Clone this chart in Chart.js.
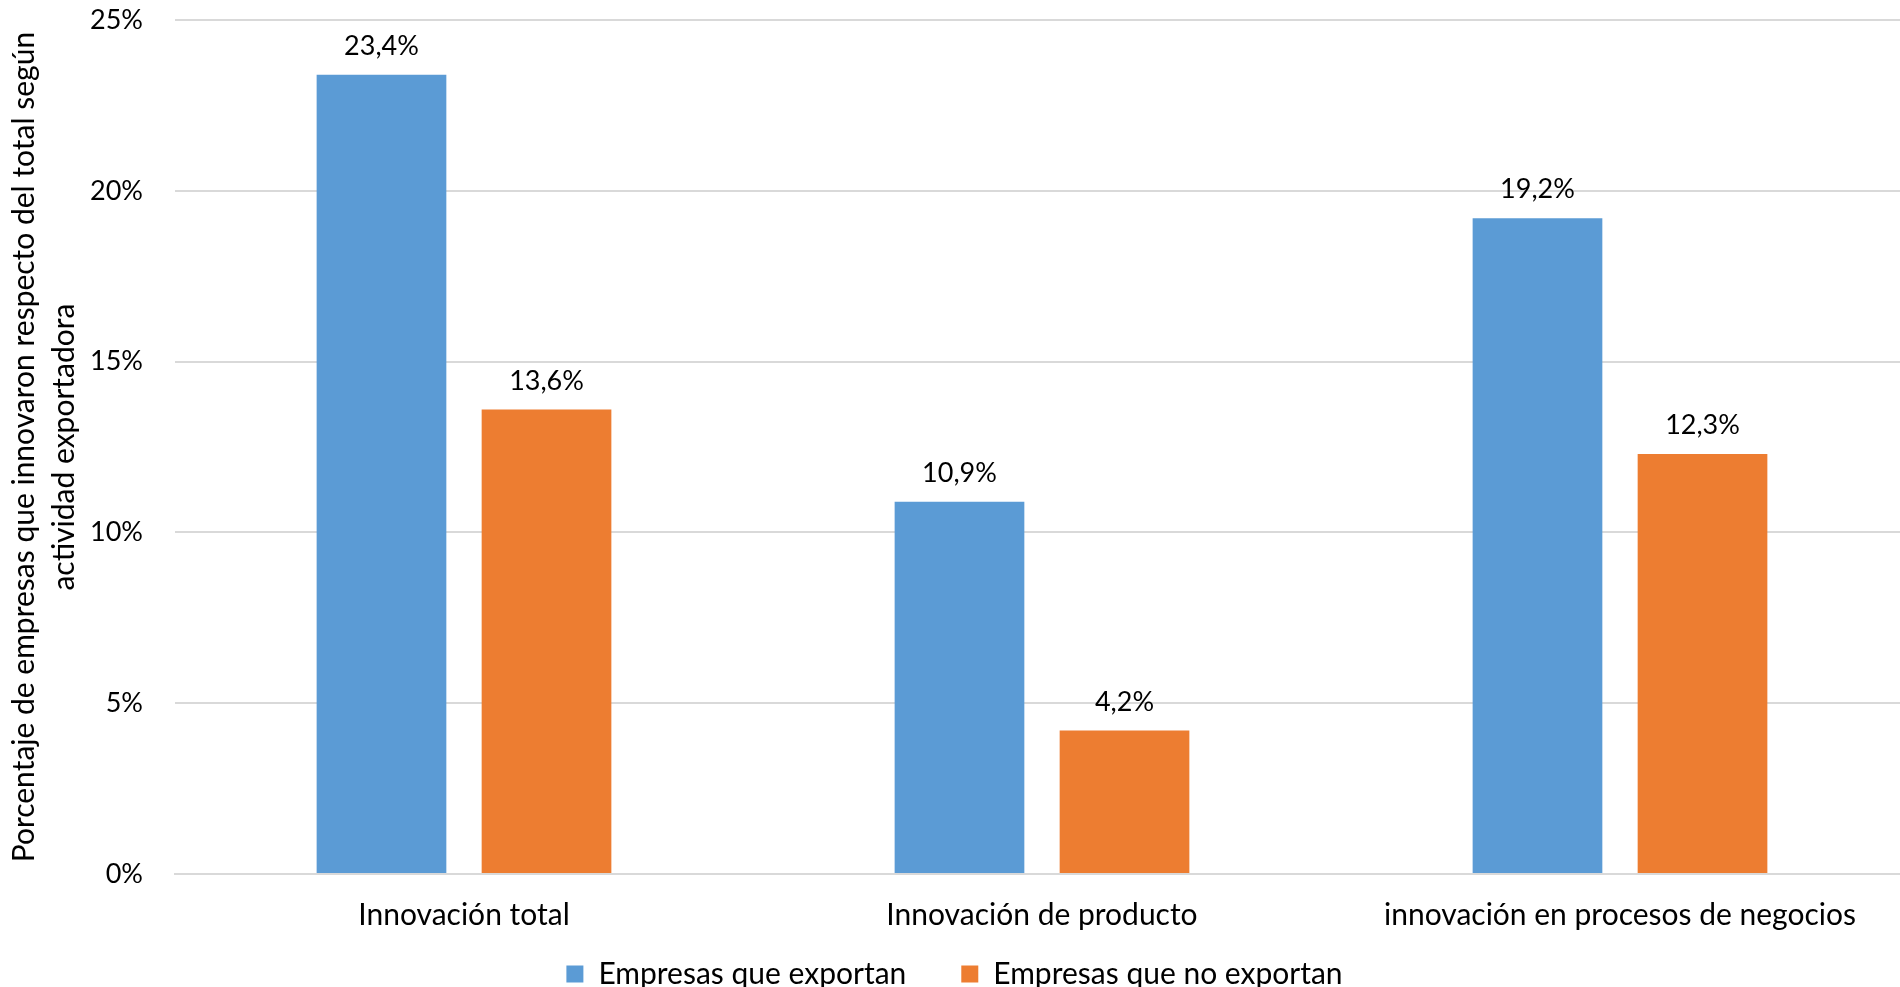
<!DOCTYPE html>
<html>
<head>
<meta charset="utf-8">
<script src="https://cdn.jsdelivr.net/npm/chart.js@4"></script>
<style>
  html, body { margin: 0; padding: 0; background: #fff; overflow: hidden; }
  /* plot area runs a few px past the right edge, as in the original */
  #wrap { width: 1909px; height: 987px; }
</style>
</head>
<body>
<div id="wrap"><canvas id="barChart"></canvas></div>
<script>
const categories = ["Innovación total", "Innovación de producto", "innovación en procesos de negocios"];
const seriesNames = ["Empresas que exportan", "Empresas que no exportan"];
const exportan = [23.4, 10.9, 19.2];
const noExportan = [13.6, 4.2, 12.3];
const yAxisTitle = ["Porcentaje de empresas que innovaron respecto del total según", "actividad exportadora"];

const fontFamily = "Lato, 'Noto Sans', sans-serif";
const textSize = 30;
const numberSize = 27;

// value labels above each bar, with comma decimals
const barLabels = {
    id: 'barLabels',
    afterLayout(chart) {
        // the x labels hang below the axis box, keep them out of the clip
        chart.scales.x.bottom = chart.height;
    },
    afterDatasetsDraw(chart) {
        const ctx = chart.ctx;
        ctx.save();
        ctx.font = numberSize + "px " + fontFamily;
        ctx.fillStyle = "#000";
        ctx.textAlign = "center";
        ctx.textBaseline = "alphabetic";
        chart.data.datasets.forEach((ds, i) => {
            chart.getDatasetMeta(i).data.forEach((bar, j) => {
                let txt = ds.data[j].toFixed(1).replace(".", ",") + "%";
                ctx.fillText(txt, bar.x, bar.y - 20);
            });
        });
        ctx.restore();
    }
};

const ctx1 = document.getElementById("barChart").getContext('2d');

const data = {
    labels: categories,
    datasets: [
        {
            label: seriesNames[0],
            data: exportan,
            backgroundColor: "#5B9BD5",
            categoryPercentage: 0.571,
            barPercentage: 0.786
        },
        {
            label: seriesNames[1],
            data: noExportan,
            backgroundColor: "#ED7D31",
            categoryPercentage: 0.571,
            barPercentage: 0.786
        }
    ]
};

const config = {
    type: 'bar',
    data: data,
    plugins: [barLabels],
    options: {
        responsive: true,
        maintainAspectRatio: false,
        animation: false,
        layout: {
            padding: { top: 20, right: 0, bottom: -12, left: 0 }
        },
        scales: {
            x: {
                grid: { display: false, drawTicks: false },
                border: { color: "#D9D9D9", width: 2 },
                ticks: {
                    color: "#000",
                    padding: 23,
                    maxRotation: 0,
                    autoSkip: false,
                    font: { family: fontFamily, size: textSize }
                },
                afterFit(scale) { scale.height = 30; }
            },
            y: {
                min: 0,
                max: 25,
                grid: { color: "#D9D9D9", lineWidth: 2, tickLength: 28, tickColor: "rgba(0,0,0,0)" },
                border: { display: false },
                ticks: {
                    stepSize: 5,
                    color: "#000",
                    padding: 4,
                    font: { family: fontFamily, size: numberSize },
                    callback: value => value + "%"
                },
                title: {
                    display: true,
                    text: yAxisTitle,
                    color: "#000",
                    padding: { top: 4, bottom: 0 },
                    font: { family: fontFamily, size: textSize, lineHeight: 1.33 }
                },
                afterFit(scale) { scale.width = 175; }
            }
        },
        plugins: {
            legend: {
                position: 'bottom',
                labels: {
                    color: "#000",
                    boxWidth: 17,
                    boxHeight: 17,
                    padding: 55,
                    font: { family: fontFamily, size: textSize }
                }
            },
            tooltip: { enabled: false }
        }
    }
};

const chart1 = new Chart(ctx1, config);
</script>
</body>
</html>
